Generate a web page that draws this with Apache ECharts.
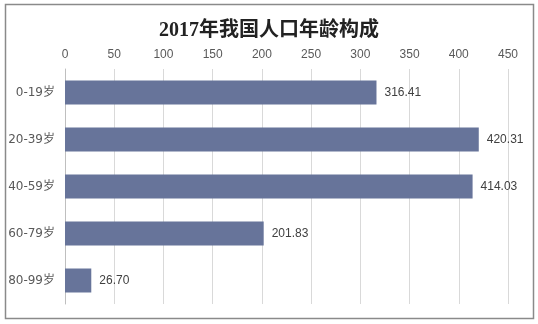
<!DOCTYPE html>
<html><head><meta charset="utf-8">
<script src="https://cdn.jsdelivr.net/npm/echarts@6/dist/echarts.min.js"></script>
<style>html,body{margin:0;padding:0;background:#fff}#c{width:538px;height:324px}</style>
</head><body><div id="c"></div>
<script>
const titleText = '2017年我国人口年龄构成';
const categories = ['0-19岁', '20-39岁', '40-59岁', '60-79岁', '80-99岁'];
const values = [316.41, 420.31, 414.03, 201.83, 26.70];
const xTicks = [0, 50, 100, 150, 200, 250, 300, 350, 400, 450];

const chart = echarts.init(document.getElementById('c'), null, {renderer: 'canvas'});
chart.setOption({
  animation: false,
  backgroundColor: '#fff',
  title: {
    text: titleText, left: 'center', top: 16,
    textStyle: {fontFamily: '"Liberation Serif", "Noto Sans CJK SC", serif', fontSize: 20, fontWeight: 'bold', color: '#222'}
  },
  graphic: [{
    type: 'rect', shape: {x: 5.5, y: 4.5, width: 528, height: 314},
    style: {fill: 'none', stroke: '#8a8a8a', lineWidth: 1.5}, silent: true, z: 10
  }],
  grid: {left: 65, right: 30, top: 69, bottom: 20, containLabel: false},
  xAxis: {
    type: 'value', position: 'top', min: xTicks[0], max: xTicks[xTicks.length - 1], interval: 50,
    axisLine: {show: false}, axisTick: {show: false},
    axisLabel: {color: '#595959', fontSize: 12, margin: 8, fontFamily: 'Arial, "Liberation Sans", sans-serif'},
    splitLine: {show: true, lineStyle: {color: '#d9d9d9', width: 1}}
  },
  yAxis: {
    type: 'category', data: categories, inverse: true,
    axisLine: {show: true, lineStyle: {color: '#bfbfbf', width: 1}},
    axisTick: {show: false},
    axisLabel: {color: '#595959', fontSize: 12, margin: 10, fontFamily: '"DejaVu Sans", "Noto Sans CJK SC", sans-serif'}
  },
  series: [{
    type: 'bar', data: values, barWidth: 24,
    itemStyle: {color: '#67749A'},
    label: {
      show: true, position: 'right', distance: 8, color: '#404040', fontSize: 12,
      fontFamily: 'Arial, "Liberation Sans", sans-serif',
      formatter: p => p.value.toFixed(2)
    }
  }]
});
</script></body></html>
